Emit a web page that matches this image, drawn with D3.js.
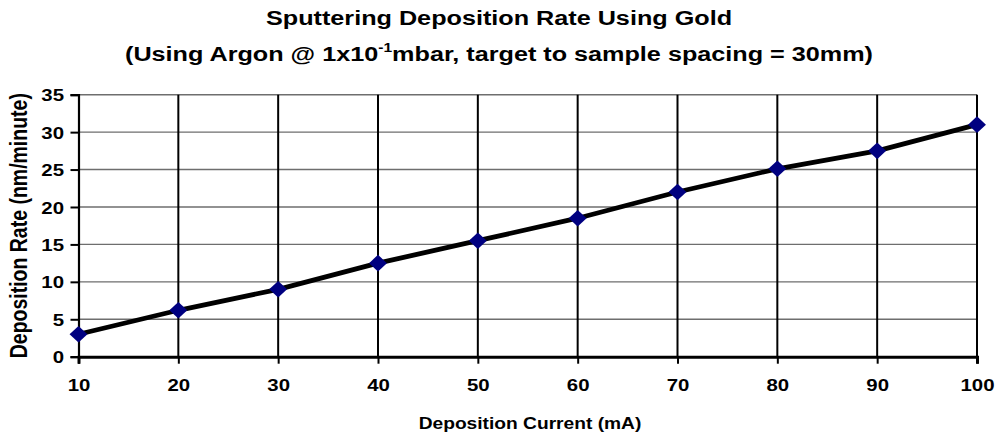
<html>
<head>
<script src="https://d3js.org/d3.v7.min.js"></script>
<style>
  body { margin: 0; background: #fff; }
  text { font-family: "Liberation Sans", Arial, sans-serif; font-weight: bold; fill: #000; }
</style>
</head>
<body>
<script>
// chart data
var currents = [10, 20, 30, 40, 50, 60, 70, 80, 90, 100];
var rates = [3, 6.2, 9, 12.5, 15.5, 18.5, 22, 25.1, 27.5, 31];
var xTicks = [10, 20, 30, 40, 50, 60, 70, 80, 90, 100];
var yTicks = [0, 5, 10, 15, 20, 25, 30, 35];

var width = 1005, height = 438;
var margin = {left: 78.5, right: 28, top: 94.7, bottom: 81.3};
// the original picture is a bit wider than tall, so text gets stretched sideways
var sx = 1.2;

var svg = d3.select("body").append("svg")
  .attr("width", width)
  .attr("height", height);

var x = d3.scaleLinear().domain([10, 100]).range([margin.left, width - margin.right]);
var y = d3.scaleLinear().domain([0, 35]).range([height - margin.bottom, margin.top]);

// horizontal grid (grey)
svg.append("g").selectAll("line")
  .data(yTicks.slice(1))
  .enter().append("line")
  .attr("x1", x(10)).attr("x2", x(100))
  .attr("y1", d => y(d)).attr("y2", d => y(d))
  .attr("stroke", "#6e6e6e")
  .attr("stroke-width", 1.4);

// vertical grid (black)
svg.append("g").selectAll("line")
  .data(xTicks.slice(1))
  .enter().append("line")
  .attr("x1", d => x(d)).attr("x2", d => x(d))
  .attr("y1", y(0)).attr("y2", y(35))
  .attr("stroke", "#000")
  .attr("stroke-width", 2);

// axes
var yAxis = svg.append("g")
  .attr("transform", "translate(" + x(10) + ",0)")
  .call(d3.axisLeft(y).tickValues(yTicks).tickSize(8));
var xAxis = svg.append("g")
  .attr("transform", "translate(0," + y(0) + ")")
  .call(d3.axisBottom(x).tickValues(xTicks).tickSize(7).tickPadding(15));

yAxis.select(".domain").attr("stroke", "#000").attr("stroke-width", 2.2);
xAxis.select(".domain").attr("stroke", "#000").attr("stroke-width", 3);

[yAxis, xAxis].forEach(function(g) {
  g.selectAll(".tick line").attr("stroke", "#000").attr("stroke-width", 2);
  g.selectAll(".tick text")
    .style("font-family", "'Liberation Sans', Arial, sans-serif")
    .style("font-weight", "bold")
    .style("font-size", "17px")
    .attr("fill", "#000")
    .attr("transform", "scale(" + sx + ",1)");
});
yAxis.selectAll(".tick text").attr("x", -14.5 / sx).attr("dy", "0.36em");

// data line
var line = d3.line()
  .x((d, i) => x(currents[i]))
  .y(d => y(d));

svg.append("path")
  .datum(rates)
  .attr("d", line)
  .attr("fill", "none")
  .attr("stroke", "#000")
  .attr("stroke-width", 4.8)
  .attr("stroke-linejoin", "round");

// diamond markers
svg.append("g").selectAll("path")
  .data(rates)
  .enter().append("path")
  .attr("d", d3.symbol().type(d3.symbolDiamond2).size(175))
  .attr("transform", (d, i) => "translate(" + x(currents[i]) + "," + y(d) + ") scale(1.08,1)")
  .attr("fill", "#000080");

// titles
svg.append("text")
  .attr("transform", "translate(499,25) scale(" + sx + ",1)")
  .attr("text-anchor", "middle")
  .style("font-size", "21px")
  .text("Sputtering Deposition Rate Using Gold");

var t2 = svg.append("text")
  .attr("transform", "translate(499,61) scale(" + sx + ",1)")
  .attr("text-anchor", "middle")
  .style("font-size", "21px");
t2.append("tspan").text("(Using Argon @ 1x10");
t2.append("tspan").attr("dy", -9).style("font-size", "13px").text("-1");
t2.append("tspan").attr("dy", 9).text("mbar, target to sample spacing = 30mm)");

svg.append("text")
  .attr("transform", "translate(530,429) scale(" + sx + ",1)")
  .attr("text-anchor", "middle")
  .style("font-size", "16px")
  .text("Deposition Current (mA)");

svg.append("text")
  .attr("transform", "translate(27," + ((y(0) + y(35)) / 2) + ") rotate(-90) scale(1," + sx + ")")
  .attr("text-anchor", "middle")
  .style("font-size", "19.5px")
  .text("Deposition Rate (nm/minute)");
</script>
</body>
</html>
